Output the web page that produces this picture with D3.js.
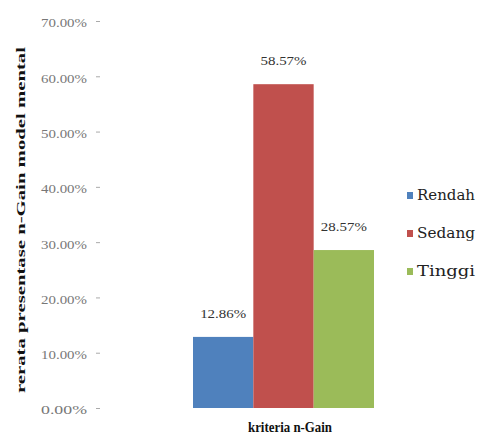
<!DOCTYPE html>
<html>
<head>
<meta charset="utf-8">
<script src="https://cdn.jsdelivr.net/npm/d3@7"></script>
<style>
  body { margin: 0; background: #fff; }
</style>
</head>
<body>
<svg id="chart" width="480" height="439"></svg>
<script>
// data
var categories = ["Rendah", "Sedang", "Tinggi"];
var values = [12.86, 58.57, 28.57];
var colors = ["#4f81bd", "#c0504d", "#9bbb59"];
var yTicks = [0, 10, 20, 30, 40, 50, 60, 70];
var groupLabel = "kriteria n-Gain";
var yTitle = "rerata presentase  n-Gain model mental";

var svg = d3.select("#chart"),
  margin = {top: 21, left: 100},
  plotH = 387;

var g = svg.append("g").attr("transform", "translate(" + margin.left + "," + margin.top + ")");

var y = d3.scaleLinear().domain([0, 70]).range([plotH, 0]);

var x = d3.scaleBand()
  .domain(categories)
  .range([93, 274])
  .padding(0);

// y axis (ticks only, no domain line)
var yAxis = g.append("g")
  .call(d3.axisLeft(y).tickValues(yTicks).tickSize(0).tickPadding(13)
    .tickFormat(function(d) { return d.toFixed(2) + "%"; }));
yAxis.attr("font-family", "Liberation Serif");
yAxis.select(".domain").remove();
yAxis.selectAll(".tick").append("line")
  .attr("x1", -4).attr("x2", 0)
  .attr("stroke", "#aaa");
yAxis.selectAll("text")
  .attr("font-size", 13)
  .attr("dy", "0.45em")
  .attr("fill", "#777")
  .attr("textLength", 46)
  .attr("lengthAdjust", "spacingAndGlyphs");

// bars
g.selectAll("rect.bar")
  .data(values)
  .enter().append("rect")
    .attr("class", "bar")
    .attr("x", function(d, i) { return x(categories[i]); })
    .attr("y", function(d) { return y(d); })
    .attr("width", x.bandwidth())
    .attr("height", function(d) { return plotH - y(d); })
    .attr("fill", function(d, i) { return colors[i]; });

// value labels
g.selectAll("text.val")
  .data(values)
  .enter().append("text")
    .attr("class", "val")
    .attr("font-family", "Liberation Serif")
    .attr("x", function(d, i) { return x(categories[i]) + x.bandwidth() / 2; })
    .attr("y", function(d) { return y(d) - 19; })
    .attr("text-anchor", "middle")
    .attr("font-size", 13)
    .attr("fill", "#333")
    .attr("textLength", 46)
    .attr("lengthAdjust", "spacingAndGlyphs")
    .text(function(d) { return d.toFixed(2) + "%"; });

// x label
svg.append("text")
  .attr("font-family", "Liberation Serif")
  .attr("x", 290)
  .attr("y", 432)
  .attr("text-anchor", "middle")
  .attr("font-size", 14)
  .attr("font-weight", "bold")
  .attr("fill", "#111")
  .attr("textLength", 84)
  .attr("lengthAdjust", "spacingAndGlyphs")
  .text(groupLabel);

// y title
svg.append("text")
  .attr("font-family", "Liberation Serif")
  .attr("transform", "translate(25,220) rotate(-90)")
  .attr("text-anchor", "middle")
  .attr("font-size", 13)
  .attr("font-weight", "bold")
  .attr("fill", "#111")
  .attr("textLength", 346)
  .attr("lengthAdjust", "spacingAndGlyphs")
  .text(yTitle);

// legend
var legend = svg.append("g")
  .selectAll("g")
  .data(categories)
  .enter().append("g")
    .attr("transform", function(d, i) { return "translate(407," + (195 + i * 38) + ")"; });

legend.append("rect")
  .attr("y", -3)
  .attr("width", 6)
  .attr("height", 7)
  .attr("fill", function(d, i) { return colors[i]; });

legend.append("text")
  .attr("font-family", "DejaVu Serif")
  .attr("x", 10)
  .attr("y", 0)
  .attr("dy", "0.35em")
  .attr("font-size", 15)
  .attr("fill", "#222")
  .attr("textLength", 58)
  .attr("lengthAdjust", "spacingAndGlyphs")
  .text(function(d) { return d; });
</script>
</body>
</html>
